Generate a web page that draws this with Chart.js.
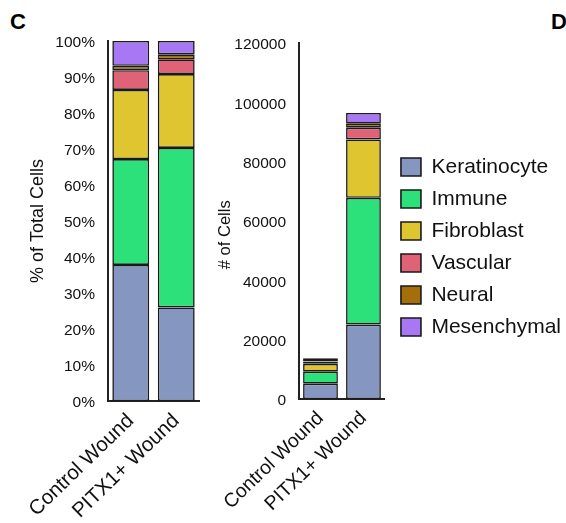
<!DOCTYPE html>
<html>
<head>
<meta charset="utf-8">
<script src="https://cdn.jsdelivr.net/npm/chart.js@4/dist/chart.umd.min.js"></script>
<style>
  html, body { margin: 0; padding: 0; background: #fff; width: 566px; height: 523px; overflow: hidden; }
  #wrap { position: relative; width: 566px; height: 523px; }
  canvas { position: absolute; top: 0; }
  #share { left: 0; }
  #count { left: 200px; }
  .tag { position: absolute; top: 11px; font: bold 22px "Liberation Sans", Arial, sans-serif; line-height: 1; color: #000; }
</style>
</head>
<body>
<div id="wrap">
  <div class="tag" style="left:10px">C</div>
  <div class="tag" style="left:551px">D</div>
  <canvas id="share" width="200" height="523"></canvas>
  <canvas id="count" width="366" height="523"></canvas>
</div>
<script>
// Wound samples on the x axis
const groups = ['Control Wound', 'PITX1+ Wound'];

// Cell types, bottom of the stack first
const cellTypes = ['Keratinocyte', 'Immune', 'Fibroblast', 'Vascular', 'Neural', 'Mesenchymal'];
const typeColors = ['#8597C0', '#2DE17A', '#DFC52F', '#E06277', '#A46F0A', '#A878F4'];

// Share of total cells (%) per wound
const keratinocytePct = [37.8, 26.0];
const immunePct       = [29.4, 44.3];
const fibroblastPct   = [19.2, 20.5];
const vascularPct     = [5.5, 4.1];
const neuralPct       = [1.2, 1.4];
const mesenchymalPct  = [6.9, 3.7];

// Number of cells per wound
const keratinocyteCount = [5180, 25100];
const immuneCount       = [4030, 42700];
const fibroblastCount   = [2630, 19700];
const vascularCount     = [750, 3950];
const neuralCount       = [165, 1350];
const mesenchymalCount  = [945, 3600];

// Axis ticks
const pctTicks = [0, 10, 20, 30, 40, 50, 60, 70, 80, 90, 100];
const countTicks = [0, 20000, 40000, 60000, 80000, 100000, 120000];

const FONT = '"Liberation Sans", Arial, Helvetica, sans-serif';
const INK = '#111';
const EDGE = '#1a1a1a';

function buildDatasets(seriesList, barPct) {
  return seriesList.map((data, i) => ({
    label: cellTypes[i],
    data: data,
    backgroundColor: typeColors[i],
    borderColor: EDGE,
    borderWidth: 1.6,
    borderSkipped: false,
    barPercentage: barPct,
    categoryPercentage: 1
  }));
}

function axes(o) {
  return {
    x: {
      stacked: true,
      offset: true,
      grid: { display: false },
      border: { display: true, color: '#222', width: 2 },
      ticks: {
        color: INK,
        font: { family: FONT, size: o.xFont },
        minRotation: 44, maxRotation: 44,
        padding: o.xPad,
        autoSkip: false
      },
      afterFit: s => { s.height = o.xHeight; }
    },
    y: {
      stacked: true,
      min: 0,
      max: o.max,
      afterBuildTicks: s => { s.ticks = o.ticks.map(v => ({ value: v })); },
      grid: { display: false },
      border: { display: true, color: '#222', width: 2 },
      ticks: {
        color: INK,
        font: { family: FONT, size: 15.5 },
        padding: o.yPad,
        labelOffset: 2,
        callback: o.fmt
      },
      title: {
        display: true,
        text: o.title,
        color: INK,
        font: { family: FONT, size: o.titleFont },
        padding: { top: o.titlePad, bottom: 0 }
      },
      afterFit: s => { s.width = o.yWidth; }
    }
  };
}

// Percent composition chart
new Chart(document.getElementById('share'), {
  type: 'bar',
  data: {
    labels: groups,
    datasets: buildDatasets([keratinocytePct, immunePct, fibroblastPct, vascularPct, neuralPct, mesenchymalPct], 0.81)
  },
  options: {
    responsive: false,
    animation: false,
    layout: { padding: { top: 41, right: 1, bottom: 0, left: 0 } },
    plugins: { legend: { display: false }, tooltip: { enabled: false } },
    scales: axes({
      max: 100, ticks: pctTicks, fmt: v => v + '%',
      title: '% of Total Cells', titleFont: 18, titlePad: 27,
      yWidth: 108, yPad: 5, xFont: 20.5, xPad: 0, xHeight: 122
    })
  }
});

// Moves the legend column next to the plot
const legendShift = {
  id: 'legendShift',
  afterLayout(chart, args, opts) {
    const lg = chart.legend;
    if (!lg) return;
    lg.left += opts.dx; lg.right += opts.dx;
    lg.top += opts.dy; lg.bottom += opts.dy;
  }
};

// Absolute cell-count chart with legend
new Chart(document.getElementById('count'), {
  type: 'bar',
  data: {
    labels: groups,
    datasets: buildDatasets([keratinocyteCount, immuneCount, fibroblastCount, vascularCount, neuralCount, mesenchymalCount], 0.81)
  },
  plugins: [legendShift],
  options: {
    responsive: false,
    animation: false,
    layout: { padding: { top: 43, right: 0, bottom: 0, left: 0 } },
    plugins: {
      tooltip: { enabled: false },
      legendShift: { dx: 5, dy: -36 },
      legend: {
        display: true,
        position: 'right',
        align: 'center',
        maxWidth: 300,
        labels: {
          color: INK,
          font: { family: FONT, size: 21 },
          boxWidth: 20,
          boxHeight: 18,
          padding: 11
        }
      }
    },
    scales: axes({
      max: 120000, ticks: countTicks, fmt: v => String(v),
      title: '# of Cells\u00a0\u00a0\u00a0\u00a0\u00a0\u00a0', titleFont: 16.5, titlePad: 16,
      yWidth: 99, yPad: 5, xFont: 19.5, xPad: 0, xHeight: 124
    })
  }
});
</script>
</body>
</html>
